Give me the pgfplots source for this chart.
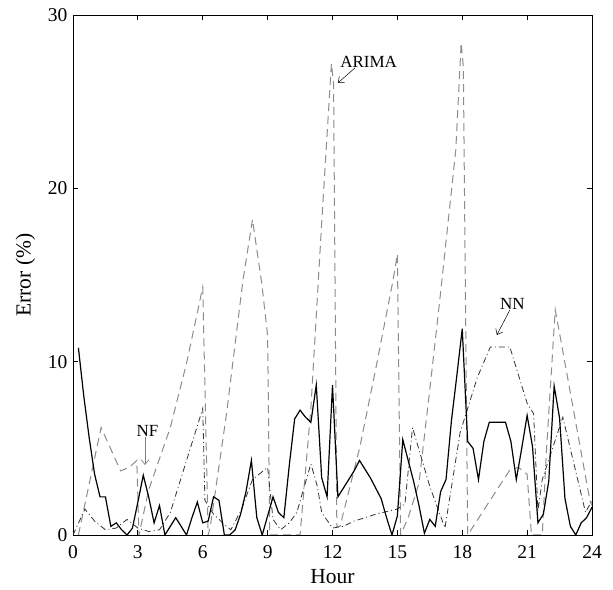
\documentclass[border=0pt]{standalone}
\usepackage{fontspec}
\setmainfont{Liberation Serif}
\usepackage{pgfplots}
\pgfplotsset{compat=1.18}
\usetikzlibrary{arrows.meta}
\begin{document}
\begin{tikzpicture}
\begin{axis}[
  scale only axis, width=519pt, height=520pt,
  xmin=0, xmax=24, ymin=0, ymax=30,
  xtick={0,3,...,24}, ytick={0,10,20,30},
  tick align=inside, major tick length=5pt,
  axis line style={line width=0.9pt},
  every tick/.style={line width=0.8pt, black},
  /pgf/number format/assume math mode=true,
  tick label style={font=\fontsize{19.5}{22}\selectfont},
  xticklabel style={yshift=-7pt},
  yticklabel style={xshift=-2pt},
  label style={font=\fontsize{21.5}{24}\selectfont},
  xlabel={Hour}, ylabel={Error (\%)},
  xlabel style={yshift=-4pt},
  ylabel style={yshift=6pt},
  clip=true,
]
% ARIMA
\addplot[gray!90, line width=1pt, dash pattern=on 8pt off 5pt] coordinates {
(0.25,0) (1.3,6.2) (2.2,3.7) (2.6,3.9) (2.95,4.3) (3.05,0)
(3.5,2.6) (4.5,6.2) (5.25,9.9) (6.0,14.3) (6.25,0)
(6.35,0.5) (7.1,7.0) (7.86,14.7) (8.3,18.2) (8.73,14.5) (9.0,11.5) (9.1,0)
(10.5,0) (11.0,7.3) (11.5,18.0) (11.95,27.2) (12.05,26) (12.2,0.5)
(12.35,0.5) (13.27,5.1) (14.05,9.9) (14.8,14.7) (15.0,16.2) (15.15,0)
(15.5,1) (16.0,3) (16.5,8.4) (17.0,14) (17.7,22.2) (17.95,28.4) (18.05,27) (18.25,0)
(20.2,3.75) (20.6,3.9) (21.0,3.5) (21.2,0)
(21.7,0) (21.9,5) (22.3,13.0) (23.0,8.2) (23.9,2.0) (24,1.7)
};
% NN
\addplot[black!80, line width=0.8pt, dash pattern=on 6pt off 3pt on 1pt off 3pt] coordinates {
(0,0) (0.55,1.5) (1.0,0.8) (1.5,0.3) (2.0,0.4) (2.5,0.9) (3.0,0.4) (3.5,0.2) (4.0,0.3)
(4.5,1.3) (5.0,3.3) (5.5,5.3) (6.0,7.3) (6.1,2.0) (6.5,1.2) (7.0,0.6) (7.3,0.3)
(7.8,1.5) (8.3,3.2) (9.0,3.9) (9.25,0.9) (9.6,0.3) (10.0,0.7) (10.35,1.3) (11.0,4.1)
(11.3,2.8) (11.5,1.3) (12.0,0.4) (12.5,0.5) (13.0,0.8) (14.0,1.2) (15.0,1.5) (15.35,1.8)
(15.7,6.2) (16.5,2.8) (17.2,0.4) (17.9,5.9) (18.7,9.1) (19.3,10.85) (20.2,10.85)
(21.0,7.6) (21.3,7.0) (21.5,1.4) (21.7,3.2) (22.65,6.8) (23.7,1.3) (24,2.0)
};
% NF
\addplot[black, line width=1.2pt] coordinates {
(0.25,10.8) (0.5,8.0) (0.75,5.6) (1.0,3.5) (1.25,2.2) (1.5,2.2) (1.75,0.5) (2.0,0.7)
(2.25,0.3) (2.5,0.0) (2.75,0.4) (3.0,1.9) (3.25,3.45) (3.5,2.2) (3.75,0.7) (4.0,1.7)
(4.25,0.0) (4.5,0.5) (4.75,1.0) (5.0,0.5) (5.25,0.0) (5.5,1.0) (5.75,1.9) (6.0,0.7)
(6.25,0.8) (6.5,2.2) (6.75,2.0) (7.0,0.0) (7.25,0.0) (7.5,0.3) (7.75,1.2) (8.0,2.5)
(8.25,4.3) (8.5,1.0) (8.75,0.0) (9.0,1.1) (9.25,2.2) (9.5,1.3) (9.75,1.0) (10.0,4.0)
(10.25,6.7) (10.5,7.2) (10.75,6.8) (11.0,6.5) (11.25,8.65) (11.5,3.3) (11.75,2.2) (12.0,8.65)
(12.25,2.2) (12.5,2.7) (12.75,3.2) (13.0,3.7) (13.25,4.3) (13.5,3.8) (13.75,3.3) (14.0,2.7)
(14.25,2.1) (14.5,1.0) (14.75,0.0) (15.0,1.1) (15.25,5.5) (15.5,4.3) (15.75,3.1) (16.0,1.7)
(16.25,0.1) (16.5,0.9) (16.75,0.5) (17.0,2.5) (17.25,3.2) (17.5,6.6) (17.75,9.2) (18.0,11.9)
(18.25,5.4) (18.5,5.0) (18.75,3.2) (19.0,5.4) (19.25,6.5) (19.5,6.5) (19.75,6.5) (20.0,6.5)
(20.25,5.4) (20.5,3.2) (20.75,5.0) (21.0,6.9) (21.25,5.1) (21.5,0.7) (21.75,1.2) (22.0,3.1)
(22.25,8.6) (22.5,6.75) (22.75,2.1) (23.0,0.5) (23.25,0.0) (23.5,0.7) (23.75,1.0) (24.0,1.6)
};
\node[font=\fontsize{17}{19}\selectfont, anchor=base west, inner sep=0pt] at (axis cs:12.35,26.95) {ARIMA};
\draw[line width=0.5pt, -{Straight Barb[length=5pt,width=8pt]}] (axis cs:13.04,26.95) -- (axis cs:12.25,26.08);
\node[font=\fontsize{17}{19}\selectfont, inner sep=0pt] at (axis cs:3.44,6.0) {NF};
\draw[gray, line width=0.6pt, -{Straight Barb[length=5pt,width=8pt]}] (axis cs:3.33,5.65) -- (axis cs:3.33,4.04);
\node[font=\fontsize{17}{19}\selectfont, inner sep=0pt] at (axis cs:20.32,13.33) {NN};
\draw[line width=0.5pt, -{Straight Barb[length=5pt,width=8pt]}] (axis cs:20.2,12.98) -- (axis cs:19.6,11.54);
\end{axis}
\pgfresetboundingbox
\path ([shift={(-73pt,-55pt)}]current axis.south west) rectangle ([shift={(21pt,15pt)}]current axis.north east);
\end{tikzpicture}
\end{document}
